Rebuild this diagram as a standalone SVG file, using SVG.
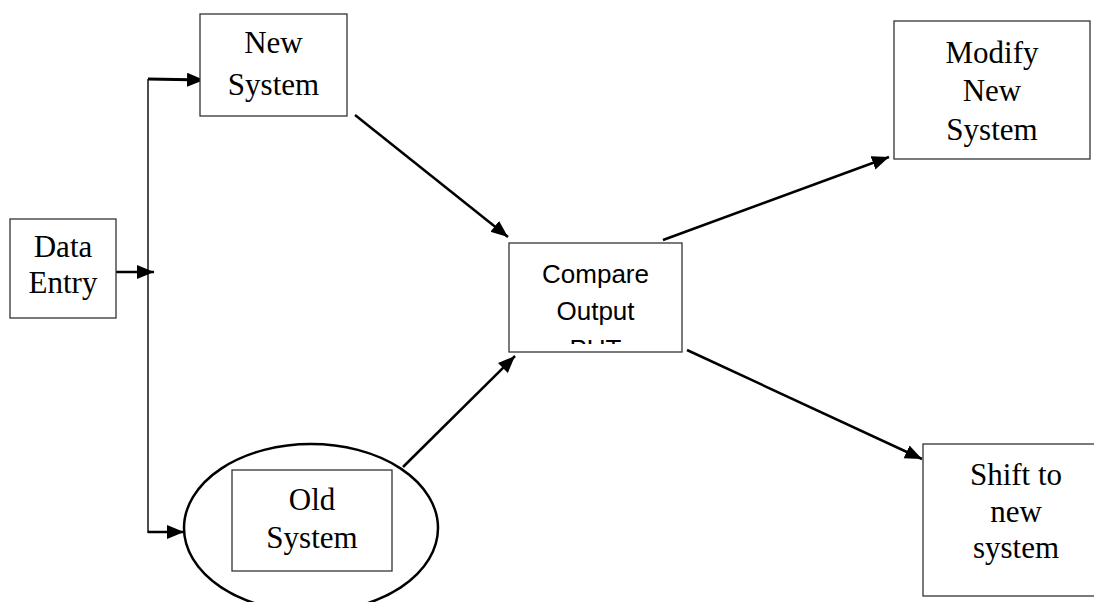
<svg xmlns="http://www.w3.org/2000/svg" width="1094" height="602" viewBox="0 0 1094 602">
  <style>
    .box { fill: #fff; stroke: #333; stroke-width: 1.3; }
    .serif { font-family: "Liberation Serif", "Times New Roman", serif; font-size: 31px; fill: #000; text-anchor: middle; }
    .sans { font-family: "Liberation Sans", Arial, sans-serif; font-size: 26px; fill: #000; text-anchor: middle; }
    .link { fill: none; stroke: #000; stroke-width: 2.5; }
  </style>
  <defs>
    <marker id="arrow" markerUnits="userSpaceOnUse" markerWidth="20" markerHeight="16" refX="17" refY="7" orient="auto">
      <path d="M0,0 L17,7 L0,14 Z" fill="#000"/>
    </marker>
    <clipPath id="compareClip">
      <rect x="509" y="243" width="173" height="101"/>
    </clipPath>
  </defs>

  <!-- connectors -->
  <g id="connectors">
    <line class="link" x1="113" y1="272" x2="154" y2="272" marker-end="url(#arrow)"/>
    <line x1="148" y1="79" x2="148" y2="533" stroke="#000" stroke-width="1.4"/>
    <line x1="148" y1="79" x2="204" y2="80" stroke="#000" stroke-width="3" marker-end="url(#arrow)"/>
    <line class="link" x1="148" y1="532" x2="184" y2="532" marker-end="url(#arrow)"/>
    <line class="link" x1="355" y1="115" x2="508" y2="237" marker-end="url(#arrow)"/>
    <line class="link" x1="403" y1="467" x2="515" y2="356" marker-end="url(#arrow)"/>
    <line class="link" x1="663" y1="240" x2="889" y2="157" marker-end="url(#arrow)"/>
    <line class="link" x1="687" y1="350" x2="922" y2="459" marker-end="url(#arrow)"/>
  </g>

  <!-- Data Entry -->
  <g id="data-entry">
    <rect class="box" x="10" y="219" width="106" height="99"/>
    <text class="serif" x="63" y="257">Data</text>
    <text class="serif" x="63" y="293">Entry</text>
  </g>

  <!-- New System -->
  <g id="new-system">
    <rect class="box" x="200" y="14" width="147" height="102"/>
    <text class="serif" x="273.5" y="53">New</text>
    <text class="serif" x="273.5" y="95">System</text>
  </g>

  <!-- Old System -->
  <g id="old-system">
    <ellipse cx="311" cy="528" rx="127" ry="84" fill="#fff" stroke="#000" stroke-width="2.5"/>
    <rect class="box" x="232" y="470" width="160" height="101"/>
    <text class="serif" x="312" y="510">Old</text>
    <text class="serif" x="312" y="548">System</text>
  </g>

  <!-- Compare Output -->
  <g id="compare-output">
    <rect class="box" x="509" y="243" width="173" height="109"/>
    <g clip-path="url(#compareClip)">
      <text class="sans" x="595.5" y="283">Compare</text>
      <text class="sans" x="595.5" y="320">Output</text>
      <text class="sans" x="595.5" y="358">PUT</text>
    </g>
  </g>

  <!-- Modify New System -->
  <g id="modify-new-system">
    <rect class="box" x="894" y="21" width="196" height="138"/>
    <text class="serif" x="992" y="63">Modify</text>
    <text class="serif" x="992" y="101">New</text>
    <text class="serif" x="992" y="140">System</text>
  </g>

  <!-- Shift to new system -->
  <g id="shift-to-new-system">
    <rect class="box" x="923" y="444" width="190" height="152"/>
    <text class="serif" x="1016" y="485">Shift to</text>
    <text class="serif" x="1016" y="522">new</text>
    <text class="serif" x="1016" y="558">system</text>
  </g>
</svg>
